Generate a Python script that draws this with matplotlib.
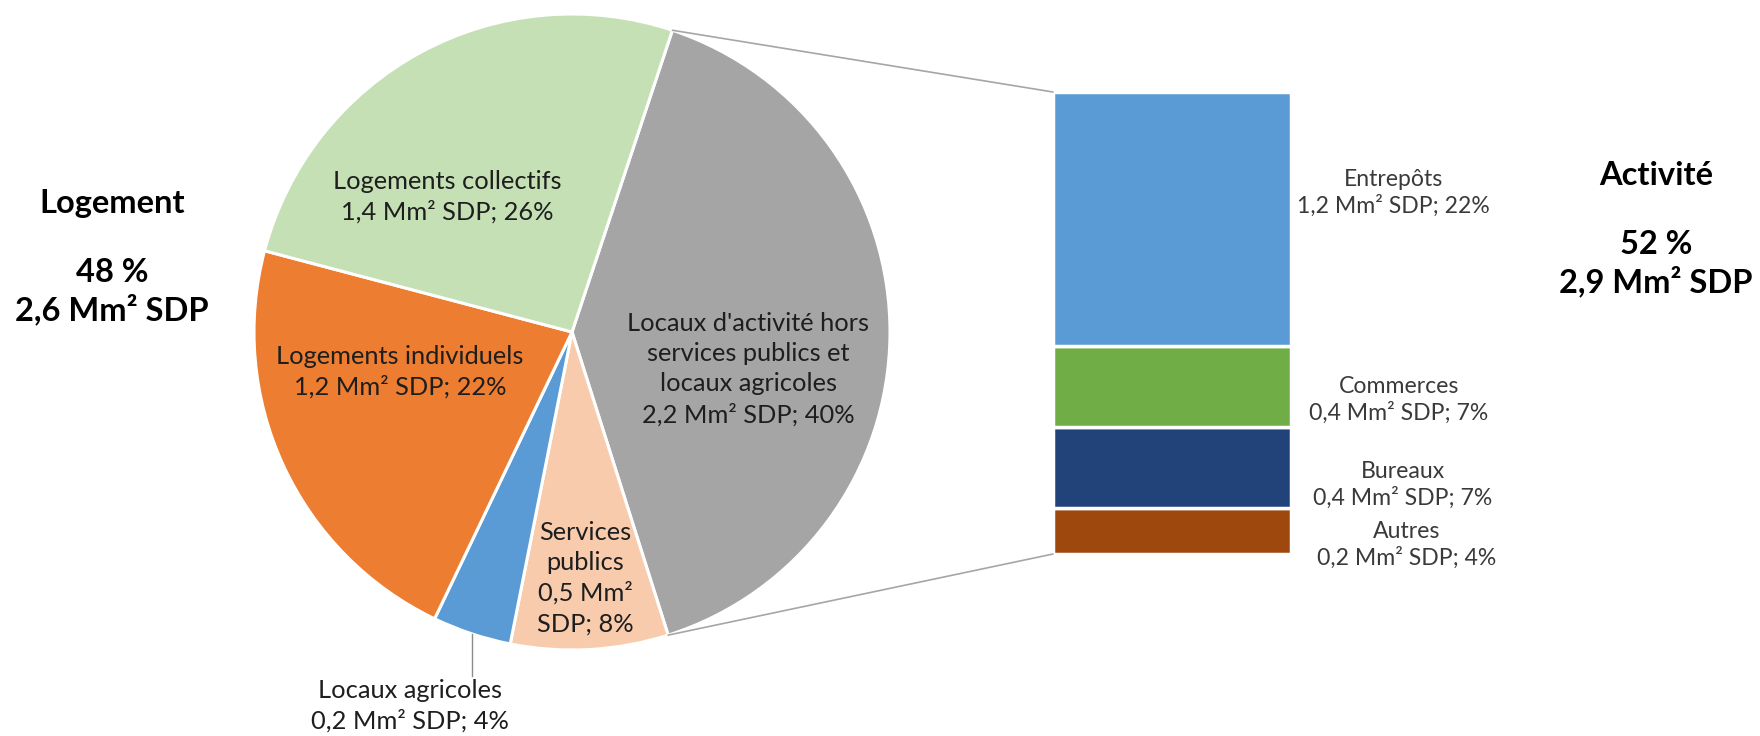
import numpy as np
import matplotlib.pyplot as plt
from matplotlib.patches import ConnectionPatch

plt.rcParams['font.family'] = ['Lato', 'DejaVu Sans']

# Surfaces de plancher autorisées, répartition par destination
pie_labels = [
    "Locaux d'activité hors\nservices publics et\nlocaux agricoles\n2,2 Mm² SDP; 40%",
    "Services\npublics\n0,5 Mm²\nSDP; 8%",
    "Locaux agricoles\n0,2 Mm² SDP; 4%",
    "Logements individuels\n1,2 Mm² SDP; 22%",
    "Logements collectifs\n1,4 Mm² SDP; 26%",
]
pie_shares = [40, 8, 4, 22, 26]
pie_colors = ['#a5a5a5', '#f8cbad', '#5b9bd5', '#ed7d31', '#c5e0b4']

# Détail des locaux d'activité (du bas vers le haut)
bar_labels = [
    "Autres\n0,2 Mm² SDP; 4%",
    "Bureaux\n0,4 Mm² SDP; 7%",
    "Commerces\n0,4 Mm² SDP; 7%",
    "Entrepôts\n1,2 Mm² SDP; 22%",
]
bar_shares = [4, 7, 7, 22]
bar_colors = ['#9e480e', '#22437a', '#70ad47', '#5b9bd5']

W, H = 1760, 736
fig = plt.figure(figsize=(W / 100, H / 100), dpi=100)
ax = fig.add_axes([0, 0, 1, 1])

cx, cy, r = 572, H - 332, 318
start = 71.6
wedges, _ = ax.pie(pie_shares, colors=pie_colors, startangle=start,
                   counterclock=False, center=(cx, cy), radius=r,
                   wedgeprops=dict(edgecolor='white', linewidth=2.2))
ax.set_xlim(0, W)
ax.set_ylim(0, H)
ax.set_aspect('equal')
ax.axis('off')

txt = '#1e1e1e'
pie_pos = [(748, 369), (585, 578), (410, 706), (400, 372), (447, 197)]
for i, (lab, (x, y)) in enumerate(zip(pie_labels, pie_pos)):
    ax.text(x, H - y, lab, ha='center', va='center', fontsize=18.3,
            color=txt, linespacing=1.38)

# trait de rappel pour les locaux agricoles
w = wedges[2]
mid = np.deg2rad((w.theta1 + w.theta2) / 2)
lx, ly = cx + r * np.cos(mid), cy + r * np.sin(mid)
ax.plot([lx, lx], [ly, H - 676], color='#8c8c8c', lw=1)

# barre empilée
bx = fig.add_axes([1053 / W, (H - 554) / H, 238 / W, 462 / H])
bottom = 0
for val, col in zip(bar_shares, bar_colors):
    bx.bar(0, val, bottom=bottom, width=1, color=col,
           edgecolor='white', linewidth=2.5)
    bottom += val
bx.set_xlim(-0.5, 0.5)
bx.set_ylim(0, sum(bar_shares))
bx.axis('off')

bar_pos = [(1407, 545), (1403, 485), (1399, 400), (1393, 193)]
for lab, (x, y) in zip(bar_labels, bar_pos):
    ax.text(x, H - y, lab, ha='center', va='center', fontsize=16.6,
            color='#3a3a3a', linespacing=1.3)

# lignes reliant la part activité à la barre
g = wedges[0]
for ang, yb in [(g.theta2, sum(bar_shares)), (g.theta1, 0)]:
    a = np.deg2rad(ang)
    p = (cx + r * np.cos(a), cy + r * np.sin(a))
    con = ConnectionPatch(xyA=p, coordsA=ax.transData, xyB=(-0.5, yb),
                          coordsB=bx.transData, color='#a6a6a6', lw=1.2)
    fig.add_artist(con)

ax.text(112, H - 257, "Logement\n\n48 %\n2,6 Mm² SDP", ha='center',
        va='center', fontsize=23.5, fontweight='bold', color='black',
        linespacing=1.24)
ax.text(1656, H - 229, "Activité\n\n52 %\n2,9 Mm² SDP", ha='center',
        va='center', fontsize=23.5, fontweight='bold', color='black',
        linespacing=1.24)

fig.savefig('out.png', dpi=100, facecolor='white')
